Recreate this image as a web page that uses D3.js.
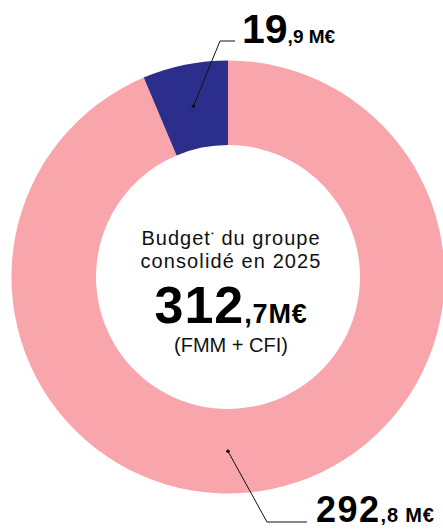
<!DOCTYPE html>
<html>
<head>
<meta charset="utf-8">
<script src="https://cdn.jsdelivr.net/npm/d3@7"></script>
<style>
  html, body { margin: 0; padding: 0; background: #ffffff; }
  svg { display: block; font-family: "Liberation Sans", Arial, Helvetica, sans-serif; }
</style>
</head>
<body>
<svg id="chart" width="443" height="529"></svg>
<script>
// Data
const categories = ["Autres", "Part bleue"];
const values = [292.8, 19.9];
const valueIntLabels = ["292", "19"];
const valueDecLabels = [",8 M€", ",9 M€"];
const colors = ["#f8a5ab", "#2b2e8a"];
const totalInt = "312";
const totalDec = ",7M€";
const centerLines = ["Budget", " du groupe", "consolidé en 2025", "(FMM + CFI)"];

const svg = d3.select("#chart");
const cx = 228, cy = 277;
const rOuter = 216.5, rInner = 132;

const g = svg.append("g").attr("transform", `translate(${cx},${cy})`);

const pie = d3.pie().sort(null).value(d => d).startAngle(0).endAngle(2 * Math.PI);
const arcs = pie(values);
const arc = d3.arc().innerRadius(rInner).outerRadius(rOuter);

g.selectAll("path.slice")
  .data(arcs)
  .join("path")
  .attr("class", "slice")
  .attr("d", arc)
  .attr("fill", (d, i) => colors[i]);

// Leader lines & labels
const rMid = (rInner + rOuter) / 2;
const anchorBlue = arc.centroid(arcs[1]);
const anchorPink = d3.pointRadial(Math.PI, rMid);

function leader(anchor, elbow, end, textX, baseline, idx, bigSize, smallSize, bigLS, smallLS) {
  g.append("polyline")
    .attr("points", [anchor, elbow, end].map(p => p.join(",")).join(" "))
    .attr("fill", "none")
    .attr("stroke", "#111")
    .attr("stroke-width", 1);
  g.append("circle")
    .attr("cx", anchor[0]).attr("cy", anchor[1]).attr("r", 1.8)
    .attr("fill", "#111");
  const t = g.append("text")
    .attr("x", textX).attr("y", baseline)
    .attr("fill", "#000")
    .attr("font-weight", 700);
  t.append("tspan").attr("font-size", bigSize).attr("letter-spacing", bigLS).text(valueIntLabels[idx]);
  t.append("tspan").attr("font-size", smallSize).attr("letter-spacing", smallLS).text(valueDecLabels[idx]);
}

// blue label (top)
leader(anchorBlue, [220 - cx, 41 - cy], [235 - cx, 41 - cy], 242 - cx, 43 - cy, 1, 41, 19, 0, 0);
// pink label (bottom)
leader(anchorPink, [267 - cx, 522 - cy], [307 - cx, 522 - cy], 316 - cx, 522 - cy, 0, 36, 20, 1.5, 0.8);

// Center text
const cxText = 231 - cx;
const t1 = g.append("text")
  .attr("x", cxText).attr("y", 245 - cy)
  .attr("text-anchor", "middle")
  .attr("font-size", 20)
  .attr("letter-spacing", 1)
  .attr("fill", "#111");
t1.append("tspan").text(centerLines[0]);
t1.append("tspan").attr("font-size", 8).attr("dy", -8).text("*");
t1.append("tspan").attr("dy", 8).text(centerLines[1]);

g.append("text")
  .attr("x", cxText).attr("y", 267.5 - cy)
  .attr("text-anchor", "middle")
  .attr("font-size", 20)
  .attr("letter-spacing", 1.1)
  .attr("fill", "#111")
  .text(centerLines[2]);

const t3 = g.append("text")
  .attr("x", cxText).attr("y", 323 - cy)
  .attr("text-anchor", "middle")
  .attr("font-weight", 700)
  .attr("fill", "#000");
t3.append("tspan").attr("font-size", 52).attr("letter-spacing", 1).text(totalInt);
t3.append("tspan").attr("font-size", 27).attr("letter-spacing", 0.8).text(totalDec);

g.append("text")
  .attr("x", cxText).attr("y", 352 - cy)
  .attr("text-anchor", "middle")
  .attr("font-size", 20)
  .attr("fill", "#111")
  .text(centerLines[3]);
</script>
</body>
</html>
